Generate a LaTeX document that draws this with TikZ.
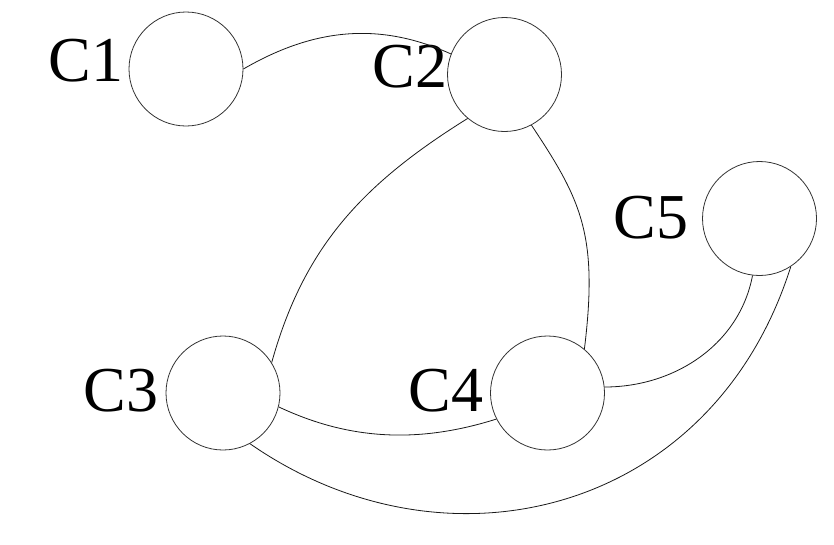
\documentclass[tikz,border=0pt]{standalone}
\usepackage{fontspec}
\setmainfont{Liberation Serif}
\begin{document}
\begin{tikzpicture}[x=1pt,y=-1pt,
  vertex/.style={circle,draw=black!80,line width=0.8pt,minimum size=114pt,inner sep=0pt},
  tag/.style={anchor=base,inner sep=0pt,font=\fontsize{64}{64}\selectfont},
  link/.style={draw=black!90,line width=0.8pt}]
\path[use as bounding box] (0,0) rectangle (834,544);

% vertices
\node[vertex] (C1) at (186,69) {};
\node[vertex] (C2) at (504.5,74.5) {};
\node[vertex] (C3) at (223,393) {};
\node[vertex] (C4) at (547.5,393) {};
\node[vertex] (C5) at (759.5,218.5) {};

% vertex names
\node[tag] (tC1) at (86,81) {C1};
\node[tag] (tC2) at (410,87.5) {C2};
\node[tag] (tC3) at (121,411) {C3};
\node[tag] (tC4) at (446,411) {C4};
\node[tag] (tC5) at (651,238) {C5};

% edges
\draw[link] (C1.0) .. controls +(69,-40) and +(-73,-33) .. (C2.159);
\draw[link] (C2.230) .. controls +(-106,66) and +(32,-115) .. (C3.32);
\draw[link] (C2.298) .. controls +(50,75) and +(14,-114) .. (C4.50);
\draw[link] (C3.346) .. controls +(72,34) and +(-76,24) .. (C4.207);
\draw[link] (C4.6) .. controls +(70,0) and +(-13,69) .. (C5.263);
\draw[link] (C3.298) .. controls +(197,137) and +(-78,247) .. (C5.303);
\end{tikzpicture}
\end{document}
